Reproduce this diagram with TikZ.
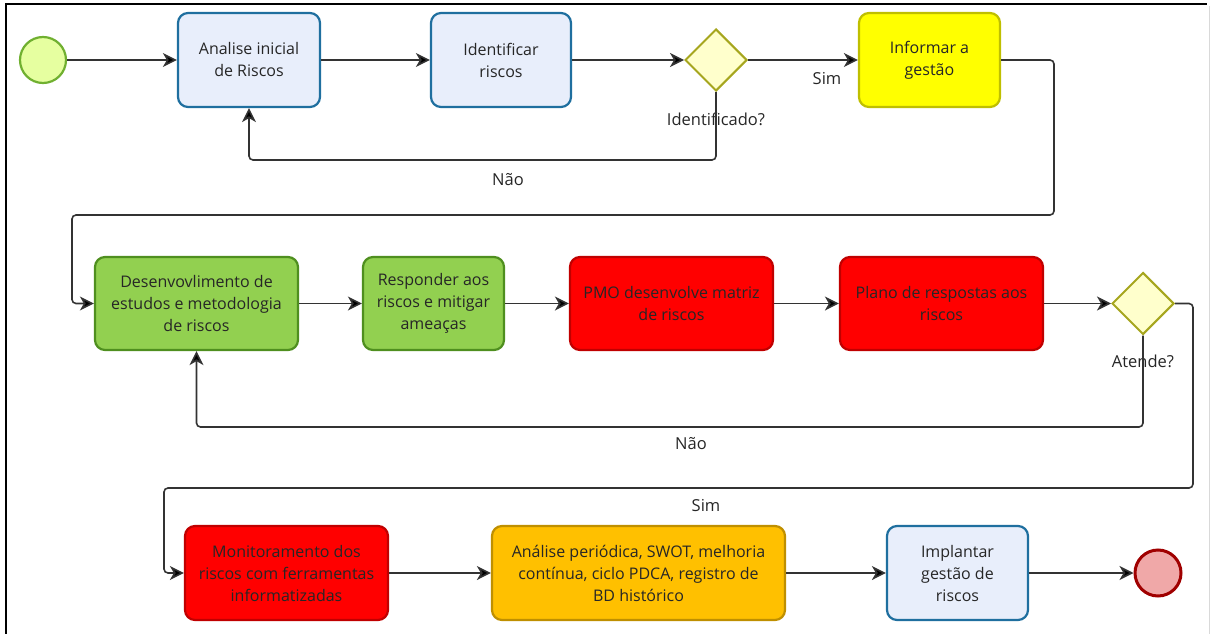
\documentclass[tikz,border=0pt]{standalone}
\usepackage{fontspec}
\setmainfont{Open Sans}
\usetikzlibrary{arrows.meta,shapes.geometric}
\definecolor{bluefill}{HTML}{E8EEFB}
\definecolor{bluedraw}{HTML}{1F6F9F}
\definecolor{greenfill}{HTML}{92D050}
\definecolor{greendraw}{HTML}{4F8F1F}
\definecolor{redfill}{HTML}{FF0000}
\definecolor{reddraw}{HTML}{C00000}
\definecolor{yelfill}{HTML}{FFFF00}
\definecolor{yeldraw}{HTML}{BFBF00}
\definecolor{orgfill}{HTML}{FFC000}
\definecolor{orgdraw}{HTML}{BF8F00}
\definecolor{gwfill}{HTML}{FFFFCC}
\definecolor{gwdraw}{HTML}{A6A61E}
\definecolor{startfill}{HTML}{E6FFA0}
\definecolor{startdraw}{HTML}{70B030}
\definecolor{endfill}{HTML}{F0A8A8}
\definecolor{enddraw}{HTML}{A00000}
\definecolor{flow}{HTML}{333333}
\tikzset{
  x=1pt, y=-1pt,
  task/.style={rectangle, rounded corners=10pt, line width=2.2pt, align=center,
    font=\fontsize{16}{22}\selectfont, text=black!85, inner sep=2pt},
  bluetask/.style={task, fill=bluefill, draw=bluedraw},
  greentask/.style={task, fill=greenfill, draw=greendraw},
  redtask/.style={task, fill=redfill, draw=reddraw},
  yeltask/.style={task, fill=yelfill, draw=yeldraw},
  orgtask/.style={task, fill=orgfill, draw=orgdraw},
  gateway/.style={diamond, fill=gwfill, draw=gwdraw, line width=2pt,
    minimum width=62pt, minimum height=62pt, inner sep=0pt},
  event/.style={circle, minimum size=46pt, inner sep=0pt},
  flowline/.style={draw=flow, line width=1.6pt, rounded corners=4pt,
    -{Stealth[length=14pt,width=14pt,inset=4pt,fill=black]}},
  lbl/.style={font=\fontsize{16.5}{20}\selectfont, text=black!85, inner sep=1pt}
}
\begin{document}
\begin{tikzpicture}
\useasboundingbox (0,0) rectangle (1210,634);
% frame
\draw[line width=2.5pt, black] (6,634) -- (6,4) -- (1207,4);
\draw[line width=1pt, black!15] (1209,6) -- (1209,634);

% first row
\node[event, fill=startfill, draw=startdraw, line width=2.2pt] (start) at (43,60) {};
\node[bluetask, minimum width=142pt, minimum height=94pt] (b1) at (249,60) {Analise inicial\\de Riscos};
\node[bluetask, minimum width=140pt, minimum height=94pt] (b2) at (501,60) {Identificar\\riscos};
\node[gateway] (g1) at (716,60) {};
\node[yeltask, minimum width=141pt, minimum height=94pt] (b3) at (929.5,60) {Informar a\\gestão};

% second row
\node[greentask, minimum width=203pt, minimum height=93pt] (b4) at (196.5,303.5) {Desenvovlimento de\\estudos e metodologia\\de riscos};
\node[greentask, minimum width=141pt, minimum height=93pt] (b5) at (433.5,303.5) {Responder aos\\riscos e mitigar\\ameaças};
\node[redtask, minimum width=203pt, minimum height=93pt] (b6) at (671.5,303.5) {PMO desenvolve matriz\\de riscos};
\node[redtask, minimum width=203pt, minimum height=93pt] (b7) at (941.5,303.5) {Plano de respostas aos\\riscos};
\node[gateway] (g2) at (1143,303.5) {};

% third row
\node[redtask, minimum width=203pt, minimum height=94pt] (b8) at (286.5,573) {Monitoramento dos\\riscos com ferramentas\\informatizadas};
\node[orgtask, minimum width=293pt, minimum height=94pt] (b9) at (638.5,573) {Análise periódica, SWOT, melhoria\\contínua, ciclo PDCA, registro de\\BD histórico};
\node[bluetask, minimum width=141pt, minimum height=94pt] (b10) at (957.5,573) {Implantar\\gestão de\\riscos};
\node[event, fill=endfill, draw=enddraw, line width=3pt] (end) at (1158,573) {};

% labels
\node[lbl] (l1) at (716,119) {Identificado?};
\node[lbl] (l2) at (827,79) {Sim};
\node[lbl] (l3) at (508,180) {Não};
\node[lbl] (l4) at (1143,361) {Atende?};
\node[lbl] (l5) at (691,444) {Não};
\node[lbl] (l6) at (706,506) {Sim};

% sequence flows
\draw[flowline] (start) -- (b1);
\draw[flowline] (b1) -- (b2);
\draw[flowline] (b2) -- (g1);
\draw[flowline] (g1) -- (b3);
\draw[flowline] (g1.south) -- (716,160) -- (249,160) -- (b1.south);
\draw[flowline] (b3.east) -- (1054,60) -- (1054,215) -- (72,215) |- (b4.west);
\draw[flowline] (b4) -- (b5);
\draw[flowline] (b5) -- (b6);
\draw[flowline] (b6) -- (b7);
\draw[flowline] (b7) -- (g2);
\draw[flowline] (g2.south) -- (1143,427) -- (196.5,427) -- (b4.south);
\draw[flowline] (g2.east) -- (1193,303.5) -- (1193,488) -- (164,488) |- (b8.west);
\draw[flowline] (b8) -- (b9);
\draw[flowline] (b9) -- (b10);
\draw[flowline] (b10) -- (end);
\end{tikzpicture}
\end{document}
